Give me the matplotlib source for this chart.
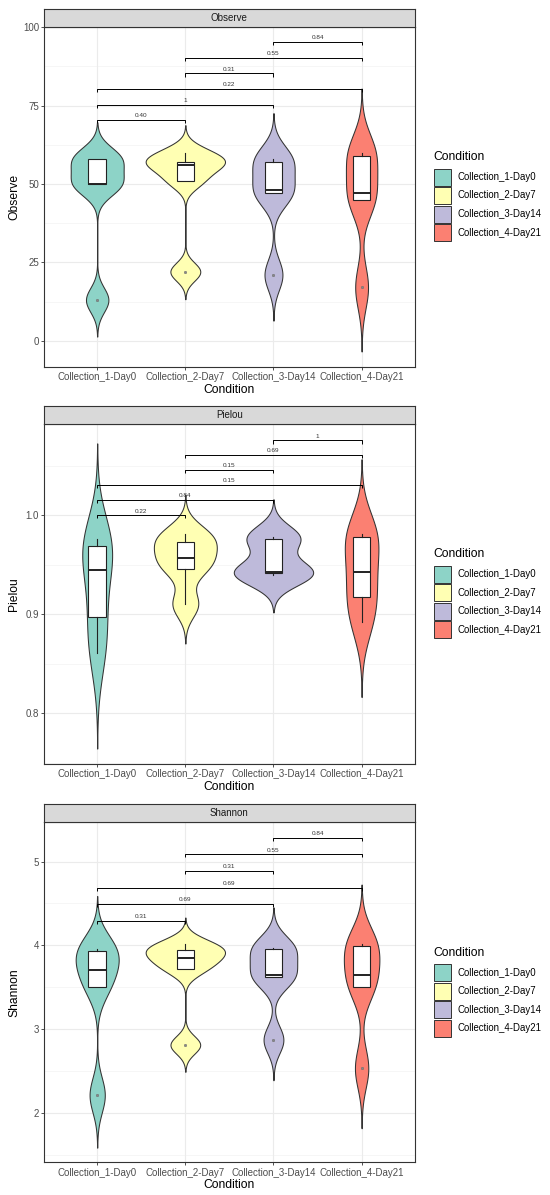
import numpy as np
import matplotlib
matplotlib.use("Agg")
import matplotlib.pyplot as plt
from matplotlib.patches import Rectangle

plt.rcParams['font.family'] = ['Liberation Sans', 'DejaVu Sans']

# ---------------- data ----------------
conditions = ["Collection_1-Day0", "Collection_2-Day7", "Collection_3-Day14", "Collection_4-Day21"]
colors = ["#8DD3C7", "#FFFFB3", "#BEBADA", "#FB8072"]

observe = [
    [13, 50, 50, 58, 58],
    [22, 51, 56, 57, 60],
    [21, 47, 48, 57, 58],
    [17, 45, 47, 59, 60],
]
pielou = [
    [0.861, 0.897, 0.945, 0.969, 0.976],
    [0.910, 0.946, 0.957, 0.973, 0.981],
    [0.940, 0.942, 0.943, 0.976, 0.978],
    [0.892, 0.917, 0.943, 0.978, 0.981],
]
shannon = [
    [2.21, 3.50, 3.70, 3.93, 3.96],
    [2.81, 3.72, 3.85, 3.94, 4.01],
    [2.87, 3.62, 3.65, 3.95, 3.97],
    [2.53, 3.50, 3.64, 3.99, 4.01],
]

# comparisons (group i, group j), p-value labels, bracket heights
pairs = [(1, 2), (1, 3), (1, 4), (2, 3), (2, 4), (3, 4)]
observe_p = ["0.40", "1", "0.22", "0.31", "0.55", "0.84"]
observe_y = [70.4, 75.2, 80.3, 85.3, 90.3, 95.3]
pielou_p = ["0.22", "0.84", "0.15", "0.15", "0.69", "1"]
pielou_y = [1.000, 1.0158, 1.0309, 1.0456, 1.0607, 1.0755]
shannon_p = ["0.31", "0.69", "0.69", "0.31", "0.55", "0.84"]
shannon_y = [4.291, 4.495, 4.690, 4.889, 5.088, 5.287]

panels = [
    ("Observe", observe, observe_p, observe_y, (-8.4, 100.2), [0, 25, 50, 75, 100],
     ["0", "25", "50", "75", "100"], [12.5, 37.5, 62.5, 87.5], 1.0),
    ("Pielou", pielou, pielou_p, pielou_y, (0.749, 1.092), [0.8, 0.9, 1.0],
     ["0.8", "0.9", "1.0"], [0.75, 0.85, 0.95, 1.05], 0.0032),
    ("Shannon", shannon, shannon_p, shannon_y, (1.407, 5.47), [2, 3, 4, 5],
     ["2", "3", "4", "5"], [1.5, 2.5, 3.5, 4.5], 0.036),
]

# ---------------- layout (pixels) ----------------
W, H = 550, 1195
fig = plt.figure(figsize=(W / 100, H / 100), dpi=100)
left_px, right_px = 44.3, 414.5
tops = [26.7, 424.0, 822.3]
bottoms = [367.0, 764.0, 1162.3]
strip_h = 18.2


def fbox(l, t, r, b):
    return [l / W, 1 - b / H, (r - l) / W, (b - t) / H]


def nrd0(x):
    x = np.asarray(x, float)
    sd = np.std(x, ddof=1)
    q1, q3 = np.percentile(x, [25, 75])
    lo = min(sd, (q3 - q1) / 1.34)
    return 0.9 * lo * len(x) ** (-0.2)


def kde(x):
    x = np.asarray(x, float)
    bw = nrd0(x)
    grid = np.linspace(x.min() - 3 * bw, x.max() + 3 * bw, 512)
    d = np.exp(-0.5 * ((grid[:, None] - x[None, :]) / bw) ** 2).sum(axis=1)
    d /= (len(x) * bw * np.sqrt(2 * np.pi))
    return grid, d


grid_col = "#EBEBEB"
for k, (name, data, plabs, pys, ylim, yt, ytl, yminor, tip) in enumerate(panels):
    ax = fig.add_axes(fbox(left_px, tops[k], right_px, bottoms[k]))
    ax.set_xlim(0.4, 4.6)
    ax.set_ylim(*ylim)
    ax.set_facecolor("white")
    # grid
    for v in yminor:
        if ylim[0] < v < ylim[1]:
            ax.axhline(v, color="#F2F2F2", lw=0.45, zorder=0)
    for v in yt:
        ax.axhline(v, color=grid_col, lw=0.85, zorder=0)
    for xpos in range(1, 5):
        ax.axvline(xpos, color=grid_col, lw=0.85, zorder=0)
    # violins (scale = area)
    dens = [kde(g) for g in data]
    dmax = max(d.max() for _, d in dens)
    for i, (gy, d) in enumerate(dens):
        hw = d / dmax * 0.45
        ax.fill_betweenx(gy, i + 1 - hw, i + 1 + hw, facecolor=colors[i],
                         edgecolor="#333333", lw=0.75, zorder=2)
    # boxplots
    ax.boxplot(data, positions=[1, 2, 3, 4], widths=0.2, patch_artist=True,
               showcaps=False, manage_ticks=False, zorder=3,
               boxprops=dict(facecolor="white", edgecolor="#222222", lw=0.8),
               medianprops=dict(color="#222222", lw=1.4),
               whiskerprops=dict(color="#222222", lw=0.8),
               flierprops=dict(marker="o", markersize=1.8, markerfacecolor="#888888",
                               markeredgecolor="#666666", markeredgewidth=0.3))
    # brackets
    for (a, b), lab, yv in zip(pairs, plabs, pys):
        ax.plot([a, a, b, b], [yv - tip, yv, yv, yv - tip], color="black", lw=0.7,
                zorder=5, solid_capstyle="butt")
        ax.annotate(lab, xy=((a + b) / 2, yv), xytext=(0, 1.2), textcoords="offset points",
                    ha="center", va="bottom", fontsize=4.6, color="#333333", zorder=6)
    # axes styling
    for s in ax.spines.values():
        s.set_color("#333333")
        s.set_linewidth(0.8)
    ax.set_yticks(yt)
    ax.set_yticklabels(ytl)
    ax.set_xticks([1, 2, 3, 4])
    ax.set_xticklabels(conditions)
    ax.tick_params(axis="both", length=2.2, width=0.6, color="#333333",
                   labelsize=7, labelcolor="#4D4D4D", pad=1.6)
    ax.set_xlabel("Condition", fontsize=8.7, labelpad=1.0)
    ax.set_ylabel(name, fontsize=8.7)
    ax.yaxis.set_label_coords((20.0 - left_px) / (right_px - left_px), 0.5)
    # strip
    sax = fig.add_axes(fbox(left_px, tops[k] - strip_h, right_px, tops[k]))
    sax.set_facecolor("#D9D9D9")
    sax.set_xticks([])
    sax.set_yticks([])
    for s in sax.spines.values():
        s.set_color("#333333")
        s.set_linewidth(0.8)
    sax.text(0.5, 0.5, name, ha="center", va="center", fontsize=7, color="#1A1A1A",
             transform=sax.transAxes)
    # legend (drawn manually)
    key_top = tops[k] + 141.8
    fig.text(433 / W, 1 - (key_top - 11.5) / H, "Condition", fontsize=8.7,
             ha="left", va="center", color="black")
    for i in range(len(conditions)):
        kt = key_top + i * 18.5
        fig.add_artist(Rectangle((433.5 / W, 1 - (kt + 17) / H), 17.5 / W, 17 / H,
                                 transform=fig.transFigure, facecolor=colors[i],
                                 edgecolor="#333333", lw=0.7))
        fig.text(458 / W, 1 - (kt + 8.5) / H, conditions[i], fontsize=6.9,
                 ha="left", va="center", color="black")

fig.savefig("out.png", dpi=100, facecolor="white")
